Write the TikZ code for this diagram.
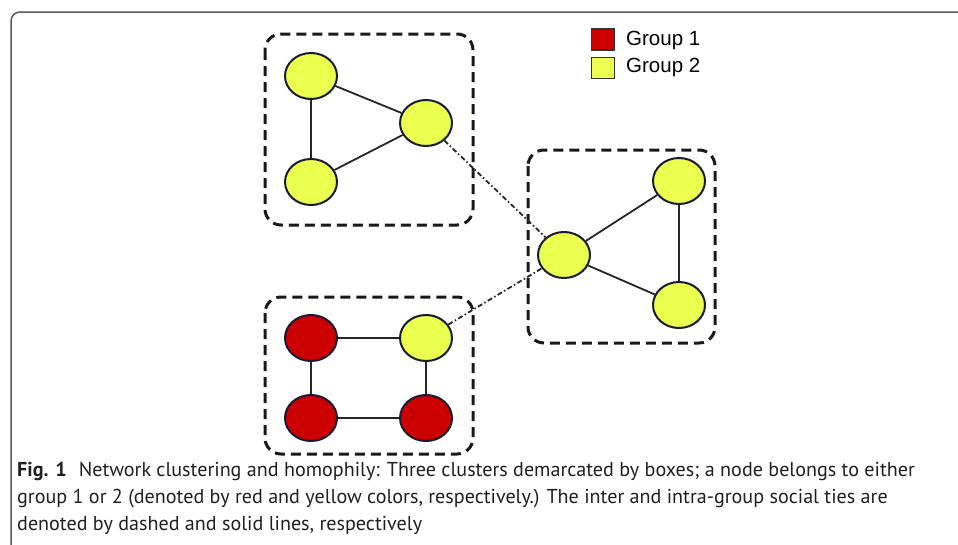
\documentclass[tikz,border=0pt]{standalone}
\usepackage{fontspec}
\setmainfont{PT Sans}
\newfontfamily\legendfont{Liberation Sans}
\usetikzlibrary{shapes.geometric}
\definecolor{nodeyellow}{HTML}{EBFF4F}
\definecolor{nodered}{HTML}{CC0000}
\definecolor{nodeline}{HTML}{1A1A33}
\definecolor{framegray}{HTML}{5A5A5A}
\definecolor{captiontext}{HTML}{231F20}
\tikzset{
  member/.style={ellipse, draw=nodeline, line width=2pt, minimum width=52pt, minimum height=46pt, inner sep=0pt},
  grp1/.style={member, fill=nodered},
  grp2/.style={member, fill=nodeyellow},
  intra/.style={draw=black!85, line width=1.8pt},
  inter/.style={draw=black!85, line width=1.8pt, dash pattern=on 5pt off 2.5pt on 1.5pt off 2.5pt},
  cluster/.style={draw=black!90, line width=3pt, dash pattern=on 10pt off 6pt, rounded corners=16pt},
  swatch/.style={draw=black!80, line width=1.6pt, minimum width=23pt, minimum height=21pt, inner sep=0pt},
  legendtext/.style={anchor=west, font=\legendfont\fontsize{20.5}{24}\selectfont, inner sep=0pt},
  captionline/.style={anchor=base west, inner sep=0pt, text=captiontext, font=\fontsize{20.1}{24}\selectfont}
}
\begin{document}
\begin{tikzpicture}[x=1pt, y=-1pt]
\useasboundingbox (0,0) rectangle (958,544);
\fill[white] (0,0) rectangle (958,544);

% outer figure frame, open to the right and bottom
\draw[framegray, line width=1.5pt, rounded corners=9pt] (960,12) -- (11,12) -- (11,546);

% cluster boxes
\draw[cluster] (265,34) rectangle (473,225);
\draw[cluster] (265,297) rectangle (473,454);
\draw[cluster] (528,150) rectangle (715,343);

% members of each cluster
\node[grp2] (a1) at (311,76) {};
\node[grp2] (a2) at (426,123) {};
\node[grp2] (a3) at (311,182) {};
\node[grp1] (b1) at (311,338) {};
\node[grp2] (b2) at (426,338) {};
\node[grp1] (b3) at (311,418) {};
\node[grp1] (b4) at (426,418) {};
\node[grp2] (c1) at (564,255) {};
\node[grp2] (c2) at (679,181) {};
\node[grp2] (c3) at (679,305) {};

% ties between clusters
\draw[inter] (a2) -- (c1);
\draw[inter] (b2) -- (c1);

% ties within clusters
\draw[intra] (a1) -- (a2);
\draw[intra] (a2) -- (a3);
\draw[intra] (a1) -- (a3);
\draw[intra] (b1) -- (b2);
\draw[intra] (b1) -- (b3);
\draw[intra] (b2) -- (b4);
\draw[intra] (b3) -- (b4);
\draw[intra] (c1) -- (c2);
\draw[intra] (c1) -- (c3);
\draw[intra] (c2) -- (c3);

% legend
\node[swatch, fill=nodered] (k1) at (603,39.5) {};
\node[swatch, fill=nodeyellow] (k2) at (603,68) {};
\node[legendtext] (t1) at (626,40) {Group 1};
\node[legendtext] (t2) at (626,67) {Group 2};

% caption
\node[captionline] (cap1) at (17,476) {\textbf{Fig. 1}\hspace{0.6em}Network clustering and homophily: Three clusters demarcated by boxes; a node belongs to either};
\node[captionline] (cap2) at (17,503) {group 1 or 2 (denoted by red and yellow colors, respectively.) The inter and intra-group social ties are};
\node[captionline] (cap3) at (17,530) {denoted by dashed and solid lines, respectively};
\end{tikzpicture}
\end{document}
